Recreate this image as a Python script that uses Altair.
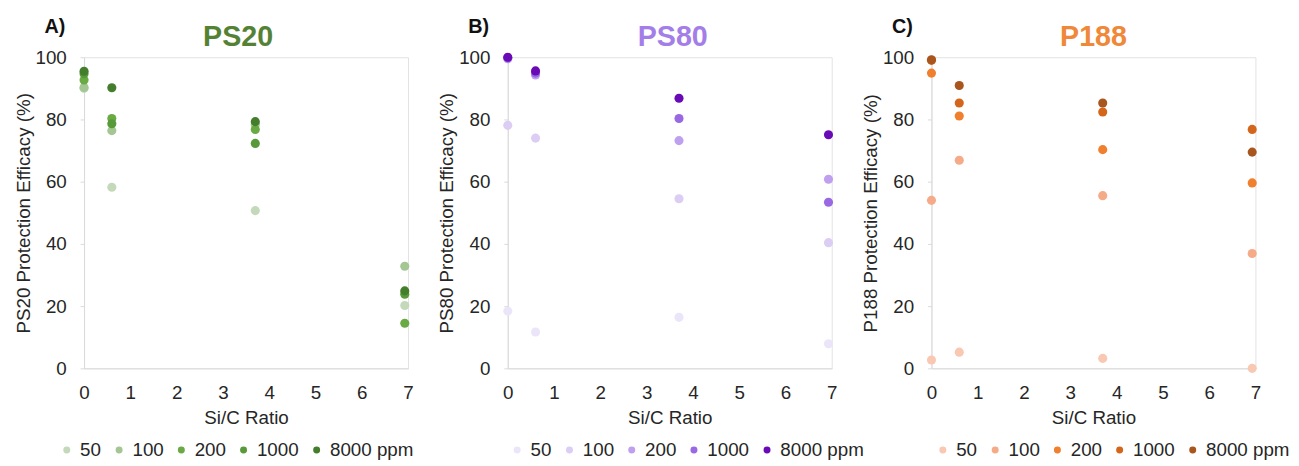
import altair as alt
import pandas as pd

# Si/C ratio positions (x)
x_ratio = [0, 0.6, 3.7, 6.93]
conc_labels = ["50", "100", "200", "1000", "8000"]

# PS20 protection efficacy (%) per concentration (ppm)
ps20_50 = [90.0, 58.2, 50.7, 20.2]
ps20_100 = [90.3, 76.4, 78.4, 32.8]
ps20_200 = [92.7, 80.3, 76.8, 14.5]
ps20_1000 = [94.7, 78.6, 72.3, 23.8]
ps20_8000 = [95.5, 90.2, 79.3, 24.9]

# PS80 protection efficacy (%)
ps80_50 = [18.4, 11.7, 16.4, 7.9]
ps80_100 = [78.1, 74.0, 54.5, 40.4]
ps80_200 = [99.5, 94.3, 73.2, 60.8]
ps80_1000 = [99.8, 94.9, 80.3, 53.4]
ps80_8000 = [100.0, 95.6, 86.8, 75.1]

# P188 protection efficacy (%)
p188_50 = [2.7, 5.2, 3.2, 0.0]
p188_100 = [54.0, 66.9, 55.5, 36.9]
p188_200 = [94.9, 81.1, 70.3, 59.6]
p188_1000 = [99.0, 85.3, 82.4, 76.8]
p188_8000 = [99.2, 90.9, 85.3, 69.5]

green = ["#c4d9ba", "#a4c692", "#6aaa45", "#589a3a", "#447e2c"]
purple = ["#ebe5f9", "#dccdf5", "#bfa0ef", "#9a68e3", "#6a0ab6"]
orange = ["#f9c8b2", "#f6ab88", "#f07f2e", "#d4661c", "#a8561e"]

FONT = "Liberation Sans"
W, H = 328, 315


def panel(series, name, letter, colors, title_color, legend_x, title_dx):
    rows = []
    i = 0
    for c, vals in zip(conc_labels, series):
        for x, v in zip(x_ratio, vals):
            rows.append({"ratio": x, "eff": v, "conc": c, "idx": i})
            i += 1
    df = pd.DataFrame(rows)
    pts = alt.Chart(df).mark_circle(size=85, opacity=1).encode(
        x=alt.X("ratio:Q", scale=alt.Scale(domain=[0, 7], nice=False),
                axis=alt.Axis(title="Si/C Ratio", values=list(range(8)),
                              labelFlush=False)),
        y=alt.Y("eff:Q", scale=alt.Scale(domain=[0, 100], nice=False),
                axis=alt.Axis(title=f"{name} Protection Efficacy (%)",
                              values=[0, 20, 40, 60, 80, 100], ticks=True,
                              tickSize=4, tickColor="#d9d9d9", labelPadding=14,
                              labelFlush=False)),
        color=alt.Color("conc:N",
                        scale=alt.Scale(domain=conc_labels, range=colors),
                        sort=conc_labels,
                        legend=alt.Legend(
                            title=None, orient="none", direction="horizontal",
                            legendX=legend_x, legendY=388,
                            symbolType="circle", symbolSize=50, symbolOpacity=1,
                            labelFontSize=19, labelFont=FONT, labelColor="#262626",
                            columnPadding=8, labelOffset=4,
                            labelExpr="datum.label == '8000' ? '8000 ppm' : datum.label")),
        order=alt.Order("idx:Q"),
    )
    lab = pd.DataFrame({"t": [letter]})
    txt = alt.Chart(lab).mark_text(
        align="left", baseline="alphabetic", fontSize=20, fontWeight="bold",
        font=FONT, color="#111111"
    ).encode(x=alt.value(-40), y=alt.value(-25), text="t:N")
    ttl = alt.Chart(pd.DataFrame({"t": [name]})).mark_text(
        align="center", baseline="alphabetic", fontSize=29, fontWeight="bold",
        font=FONT, color=title_color
    ).encode(x=alt.value(W / 2 + title_dx), y=alt.value(-11), text="t:N")
    return alt.layer(pts, txt, ttl).properties(width=W, height=H)


a = panel([ps20_50, ps20_100, ps20_200, ps20_1000, ps20_8000], "PS20", "A)",
          green, "#548235", -27, -8)
b = panel([ps80_50, ps80_100, ps80_200, ps80_1000, ps80_8000], "PS80", "B)",
          purple, "#a47ee8", 0, 3)
c = panel([p188_50, p188_100, p188_200, p188_1000, p188_8000], "P188", "C)",
          orange, "#f0883a", 2, 0)

chart = alt.hconcat(a, b, c, spacing=101, bounds="flush").resolve_scale(
    color="independent"
).properties(
    padding={"left": 5, "top": 5, "right": 0, "bottom": 0}
).configure_view(
    stroke="#e3e3e3", strokeWidth=1
).configure_axis(
    grid=False, domainColor="#d9d9d9", ticks=False,
    labelFont=FONT, labelFontSize=19, labelColor="#262626",
    titleFont=FONT, titleFontSize=19, titleColor="#262626", titleFontWeight="normal",
).configure_axisX(
    labelPadding=16, titlePadding=6,
).configure_axisY(
    titlePadding=2,
)

chart.save("out.html", embed_options={"renderer": "svg", "actions": False})
